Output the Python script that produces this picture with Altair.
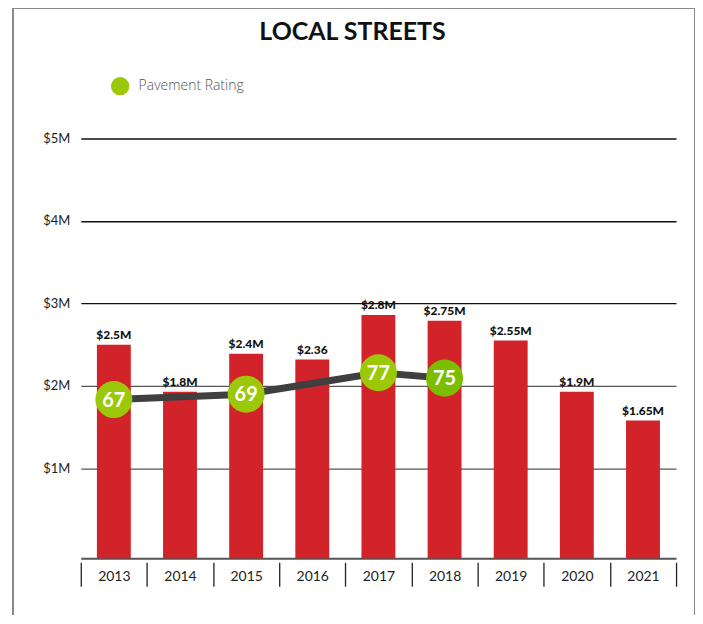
import altair as alt
import pandas as pd

YEARS = ["2013", "2014", "2015", "2016", "2017", "2018", "2019", "2020", "2021"]
SPEND = [2.50, 1.93, 2.39, 2.32, 2.86, 2.79, 2.55, 1.93, 1.58]
SPEND_LABELS = ["$2.5M", "$1.8M", "$2.4M", "$2.36", "$2.8M", "$2.75M", "$2.55M", "$1.9M", "$1.65M"]
RATING_YEARS = ["2013", "2015", "2017", "2018"]
RATINGS = [67, 69, 77, 75]
Y_TICKS = [1, 2, 3, 4, 5]

Y_MIN = -0.09
RED = "#D2232A"
GREEN = "#9CC80A"
DARK_GREEN = "#7BBE00"
LABEL_FONT = "Lato, Liberation Sans, sans-serif"

spend_df = pd.DataFrame({"year": YEARS, "spend": SPEND, "label": SPEND_LABELS})
rating_df = pd.DataFrame({"year": RATING_YEARS, "rating": RATINGS, "series": "Pavement Rating"})

W, H = 605, 421

x_enc = alt.X(
    "year:N",
    sort=YEARS,
    scale=alt.Scale(range=[8, W], paddingInner=0, paddingOuter=0),
    axis=alt.Axis(
        title=None, domain=False, tickBand="extent", tickSize=24, tickColor="#222",
        tickWidth=1.3, offset=4, labelPadding=-17, labelFontSize=14, labelFont=LABEL_FONT,
        labelColor="#222", labelAngle=0,
    ),
)
x_plain = alt.X("year:N", sort=YEARS)

y_spend_scale = alt.Scale(domain=[Y_MIN, 5], nice=False, zero=False)
y_rating_scale = alt.Scale(domain=[7.7, 164.5], nice=False, zero=False)

frame = alt.Chart(alt.Data(values=[{"f": 1}])).mark_rect(
    fillOpacity=0, stroke="#8a8a8a", strokeWidth=2, clip=False
).encode(
    x=alt.value(-60), x2=alt.value(624), y=alt.value(-131), y2=alt.value(520)
)

bars = alt.Chart(spend_df).mark_bar(color=RED, size=34).encode(
    x=x_enc,
    y=alt.Y(
        "spend:Q",
        scale=y_spend_scale,
        axis=alt.Axis(
            title=None, domain=False, ticks=False, values=[Y_MIN] + Y_TICKS,
            labelExpr="datum.value < 0.5 ? '' : '$' + datum.value + 'M'",
            labelFont=LABEL_FONT, labelFontSize=13, labelColor="#222", labelPadding=3,
            grid=True,
            gridColor=alt.condition("datum.value >= 3", alt.value("#111"), alt.value("#555")),
            gridWidth=alt.condition("datum.value < 0.5", alt.value(2), alt.value(1.3)),
        ),
    ),
    y2=alt.datum(Y_MIN),
)

bar_labels = alt.Chart(spend_df).mark_text(
    baseline="bottom", dy=-3, font=LABEL_FONT, fontSize=12, fontWeight=900, color="#111"
).encode(
    x=x_plain,
    y=alt.Y("spend:Q", scale=y_spend_scale, axis=None),
    text="label:N",
)

line = alt.Chart(rating_df).mark_line(color="#3f3f3f", strokeWidth=7).encode(
    x=x_plain,
    y=alt.Y("rating:Q", scale=y_rating_scale, axis=None),
)

points = alt.Chart(rating_df).mark_point(filled=True, shape="circle", size=1380, opacity=1).encode(
    x=x_plain,
    y=alt.Y("rating:Q", scale=y_rating_scale, axis=None),
    color=alt.condition(
        "datum.year == '2018'",
        alt.value(DARK_GREEN),
        alt.Color(
            "series:N",
            scale=alt.Scale(range=[GREEN]),
            legend=alt.Legend(
                title=None, orient="none", legendX=38, legendY=-62, symbolSize=340,
                symbolType="circle", symbolStrokeWidth=0, labelFontSize=14,
                labelColor="#555", labelFont="Open Sans, Liberation Sans, sans-serif",
                labelFontWeight=300, labelOffset=9, padding=0,
            ),
        ),
    ),
)

point_text = alt.Chart(rating_df).mark_text(
    color="white", fontSize=20, fontWeight="bold", font=LABEL_FONT,
    baseline="middle", dy=1,
).encode(
    x=x_plain,
    y=alt.Y("rating:Q", scale=y_rating_scale, axis=None),
    text="rating:Q",
)

chart = alt.layer(frame, bars, bar_labels, line, points, point_text).resolve_scale(
    y="independent"
).properties(
    width=W,
    height=H,
    autosize=alt.AutoSizeParams(type="none"),
    padding={"left": 65, "top": 130, "right": 19, "bottom": 56},
    title=alt.TitleParams(
        "LOCAL STREETS", fontSize=25, fontWeight="bold", font=LABEL_FONT, color="#111",
        anchor="middle", offset=-38, dx=-22,
    ),
).configure_view(stroke=None)

chart.save("out.html", embed_options={"renderer": "svg", "actions": False})
